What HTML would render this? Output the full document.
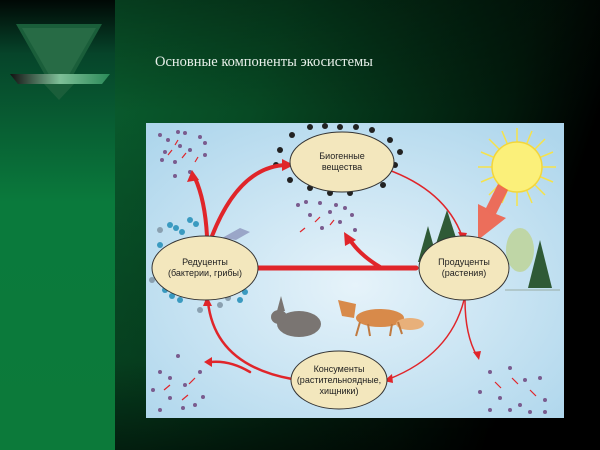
<!DOCTYPE html>
<html><head><meta charset="utf-8"><style>
html,body{margin:0;padding:0;width:600px;height:450px;overflow:hidden;background:#000}
</style></head><body>
<svg width="600" height="450" viewBox="0 0 600 450" xmlns="http://www.w3.org/2000/svg" font-family="Liberation Sans, sans-serif">
<defs>
<linearGradient id="bg" x1="0" y1="0" x2="1" y2="0.25">
<stop offset="0" stop-color="#0b6a35"/><stop offset="0.45" stop-color="#074a24"/><stop offset="0.85" stop-color="#021a0c"/><stop offset="1" stop-color="#000"/>
</linearGradient>
<linearGradient id="bgv" x1="0" y1="0" x2="0" y2="1">
<stop offset="0" stop-color="#000" stop-opacity="0.35"/><stop offset="0.25" stop-color="#000" stop-opacity="0"/><stop offset="0.8" stop-color="#000" stop-opacity="0.2"/><stop offset="1" stop-color="#000" stop-opacity="0.6"/>
</linearGradient>
<linearGradient id="lp" x1="0" y1="0" x2="0" y2="1">
<stop offset="0" stop-color="#010805"/><stop offset="0.12" stop-color="#06442a"/><stop offset="0.45" stop-color="#0a7a3c"/><stop offset="1" stop-color="#0c7a3a"/>
</linearGradient>
<radialGradient id="sky" cx="0.5" cy="0.55" r="0.7">
<stop offset="0" stop-color="#e6f3fa"/><stop offset="1" stop-color="#aed6ec"/>
</radialGradient>
<linearGradient id="bar" x1="0" y1="0" x2="1" y2="0">
<stop offset="0" stop-color="#111"/><stop offset="0.5" stop-color="#7fbf98"/><stop offset="1" stop-color="#2a8a58"/>
</linearGradient>
</defs>
<rect width="600" height="450" fill="url(#bg)"/>
<rect width="600" height="450" fill="url(#bgv)"/>
<rect x="0" y="0" width="115" height="450" fill="url(#lp)"/>
<polygon points="16,24 102,24 59,100" fill="#1a5e3a"/>
<polygon points="22,28 96,28 59,92" fill="#2a6e48" opacity="0.8"/>
<polygon points="10,74 110,74 102,84 18,84" fill="url(#bar)"/>
<polygon points="44,84 74,84 59,100" fill="#1a5e3a"/>
<text x="155" y="66" font-family="Liberation Serif, serif" font-size="14.5" fill="#e8f0ea">Основные компоненты  экосистемы</text>

<rect x="146" y="123" width="418" height="295" fill="url(#sky)"/>
<!-- sun -->
<g stroke="#f6e24a" stroke-width="1.5">
<line x1="517" y1="128" x2="517" y2="206"/>
<line x1="478" y1="167" x2="556" y2="167"/>
<line x1="489" y1="139" x2="545" y2="195"/>
<line x1="545" y1="139" x2="489" y2="195"/>
<line x1="502" y1="131" x2="532" y2="203"/>
<line x1="532" y1="131" x2="502" y2="203"/>
<line x1="481" y1="152" x2="553" y2="182"/>
<line x1="481" y1="182" x2="553" y2="152"/>
</g>
<circle cx="517" cy="167" r="25" fill="#fbf07a" stroke="#f3d63a" stroke-width="1.5"/>
<polygon points="508,190 496,214 506,218 478,240 478,204 486,208 498,184" fill="#f0604a" opacity="0.9"/>
<!-- trees -->
<polygon points="418,262 428,226 438,262" fill="#2f5a36"/>
<polygon points="434,250 447,210 460,250" fill="#2f5a36"/>
<ellipse cx="520" cy="250" rx="14" ry="22" fill="#bfd6a6"/>
<polygon points="528,288 540,240 552,288" fill="#2f5a36"/>
<line x1="505" y1="290" x2="560" y2="290" stroke="#8a9a8a" stroke-width="0.7"/>
<!-- animals -->
<ellipse cx="299" cy="324" rx="22" ry="13" fill="#7a7572"/>
<ellipse cx="279" cy="317" rx="8" ry="7" fill="#7a7572"/>
<polygon points="277,311 281,296 285,311" fill="#7a7572"/>
<ellipse cx="380" cy="318" rx="24" ry="9" fill="#d88a4a"/>
<polygon points="338,300 356,304 354,318 342,316" fill="#d88a4a"/>
<ellipse cx="410" cy="324" rx="14" ry="6" fill="#e8b07a"/>
<g stroke="#c07a40" stroke-width="2"><line x1="360" y1="322" x2="356" y2="336"/><line x1="368" y1="324" x2="370" y2="336"/><line x1="392" y1="324" x2="390" y2="336"/><line x1="398" y1="322" x2="402" y2="334"/></g>
<!-- dots clusters -->
<g fill="#7a5b8e">
<circle cx="160" cy="135" r="2"/><circle cx="168" cy="140" r="2"/><circle cx="178" cy="132" r="2"/><circle cx="185" cy="133" r="2"/><circle cx="200" cy="137" r="2"/><circle cx="205" cy="143" r="2"/><circle cx="165" cy="152" r="2"/><circle cx="180" cy="146" r="2"/><circle cx="190" cy="150" r="2"/><circle cx="205" cy="155" r="2"/><circle cx="175" cy="162" r="2"/><circle cx="162" cy="160" r="2"/><circle cx="190" cy="172" r="2"/><circle cx="175" cy="176" r="2"/>
<circle cx="298" cy="205" r="2"/><circle cx="306" cy="202" r="2"/><circle cx="320" cy="203" r="2"/><circle cx="310" cy="215" r="2"/><circle cx="330" cy="212" r="2"/><circle cx="336" cy="205" r="2"/><circle cx="340" cy="222" r="2"/><circle cx="352" cy="215" r="2"/><circle cx="355" cy="230" r="2"/><circle cx="322" cy="228" r="2"/><circle cx="345" cy="208" r="2"/>
<circle cx="178" cy="356" r="2"/><circle cx="160" cy="372" r="2"/><circle cx="170" cy="378" r="2"/><circle cx="185" cy="385" r="2"/><circle cx="170" cy="398" r="2"/><circle cx="195" cy="405" r="2"/><circle cx="160" cy="410" r="2"/><circle cx="200" cy="372" r="2"/><circle cx="183" cy="408" r="2"/><circle cx="203" cy="397" r="2"/><circle cx="153" cy="390" r="2"/>
<circle cx="490" cy="372" r="2"/><circle cx="510" cy="368" r="2"/><circle cx="525" cy="380" r="2"/><circle cx="540" cy="378" r="2"/><circle cx="480" cy="392" r="2"/><circle cx="500" cy="398" r="2"/><circle cx="520" cy="405" r="2"/><circle cx="545" cy="400" r="2"/><circle cx="530" cy="412" r="2"/><circle cx="510" cy="410" r="2"/><circle cx="490" cy="410" r="2"/><circle cx="545" cy="412" r="2"/>
</g>
<g stroke="#e0252a" stroke-width="1.2">
<line x1="168" y1="155" x2="172" y2="150"/><line x1="182" y1="158" x2="186" y2="153"/><line x1="195" y1="162" x2="198" y2="157"/><line x1="175" y1="145" x2="178" y2="140"/>
<line x1="315" y1="222" x2="320" y2="217"/><line x1="330" y1="225" x2="334" y2="220"/><line x1="300" y1="232" x2="305" y2="228"/>
<line x1="170" y1="385" x2="164" y2="390"/><line x1="188" y1="395" x2="182" y2="400"/><line x1="195" y1="378" x2="189" y2="384"/>
<line x1="495" y1="382" x2="501" y2="388"/><line x1="512" y1="378" x2="518" y2="384"/><line x1="530" y1="390" x2="536" y2="396"/>
</g>
<g fill="#222">
<circle cx="280" cy="150" r="3"/><circle cx="292" cy="135" r="3"/><circle cx="310" cy="127" r="3"/><circle cx="325" cy="126" r="3"/><circle cx="340" cy="127" r="3"/><circle cx="356" cy="127" r="3"/><circle cx="372" cy="130" r="3"/><circle cx="390" cy="140" r="3"/><circle cx="400" cy="152" r="3"/><circle cx="395" cy="165" r="3"/><circle cx="383" cy="185" r="3"/><circle cx="350" cy="193" r="3"/><circle cx="330" cy="193" r="3"/><circle cx="310" cy="188" r="3"/><circle cx="290" cy="180" r="3"/><circle cx="276" cy="165" r="3"/>
</g>
<g fill="#3a9ac0">
<circle cx="170" cy="225" r="3"/><circle cx="176" cy="228" r="3"/><circle cx="182" cy="232" r="3"/><circle cx="160" cy="245" r="3"/><circle cx="165" cy="290" r="3"/><circle cx="172" cy="296" r="3"/><circle cx="180" cy="300" r="3"/><circle cx="240" cy="300" r="3"/><circle cx="245" cy="292" r="3"/><circle cx="250" cy="270" r="3"/><circle cx="190" cy="220" r="3"/><circle cx="196" cy="224" r="3"/><circle cx="155" cy="268" r="3"/>
</g>
<g fill="#8aa0b0"><circle cx="152" cy="280" r="3"/><circle cx="220" cy="305" r="3"/><circle cx="200" cy="310" r="3"/><circle cx="228" cy="298" r="3"/><circle cx="160" cy="230" r="3"/></g>
<polygon points="222,238 240,228 250,232 236,240" fill="#9aa6c8"/>
<!-- arrows -->
<g fill="none" stroke="#e0252a" stroke-linecap="round">
<path d="M416,268 L240,268" stroke-width="5"/>
<path d="M380,267 Q360,255 350,240" stroke-width="4"/>
<path d="M212,236 Q240,165 288,165" stroke-width="4"/>
<path d="M207,236 Q205,200 195,178" stroke-width="4"/>
<path d="M386,169 Q445,190 462,236" stroke-width="1.5"/>
<path d="M464,300 Q450,355 389,379" stroke-width="1.5"/>
<path d="M465,300 Q465,335 477,356" stroke-width="1.5"/>
<path d="M292,379 Q215,365 208,302" stroke-width="2.5"/>
<path d="M250,372 Q230,360 210,362" stroke-width="2.5"/>
</g>
<g fill="#e0252a">
<polygon points="232,268 246,261 246,275"/>
<polygon points="344,232 356,240 345,246"/>
<polygon points="294,165 282,159 282,171"/>
<polygon points="192,170 187,182 199,180"/>
<polygon points="463,242 458,232 467,233"/>
<polygon points="384,381 392,374 393,383"/>
<polygon points="479,360 473,352 481,351"/>
<polygon points="207,296 203,306 212,306"/>
<polygon points="204,362 212,357 212,367"/>
</g>
<!-- ellipses -->
<g fill="#f3e7bd" stroke="#333" stroke-width="1">
<ellipse cx="342" cy="162" rx="52" ry="30"/>
<ellipse cx="205" cy="268" rx="53" ry="32"/>
<ellipse cx="464" cy="268" rx="45" ry="32"/>
<ellipse cx="339" cy="380" rx="48" ry="29"/>
</g>
<g font-size="9" fill="#222" text-anchor="middle">
<text x="342" y="159">Биогенные</text><text x="342" y="170">вещества</text>
<text x="205" y="265">Редуценты</text><text x="205" y="276">(бактерии, грибы)</text>
<text x="464" y="265">Продуценты</text><text x="464" y="276">(растения)</text>
<text x="339" y="372">Консументы</text><text x="339" y="383">(растительноядные,</text><text x="339" y="394">хищники)</text>
</g>
</svg>
</body></html>
